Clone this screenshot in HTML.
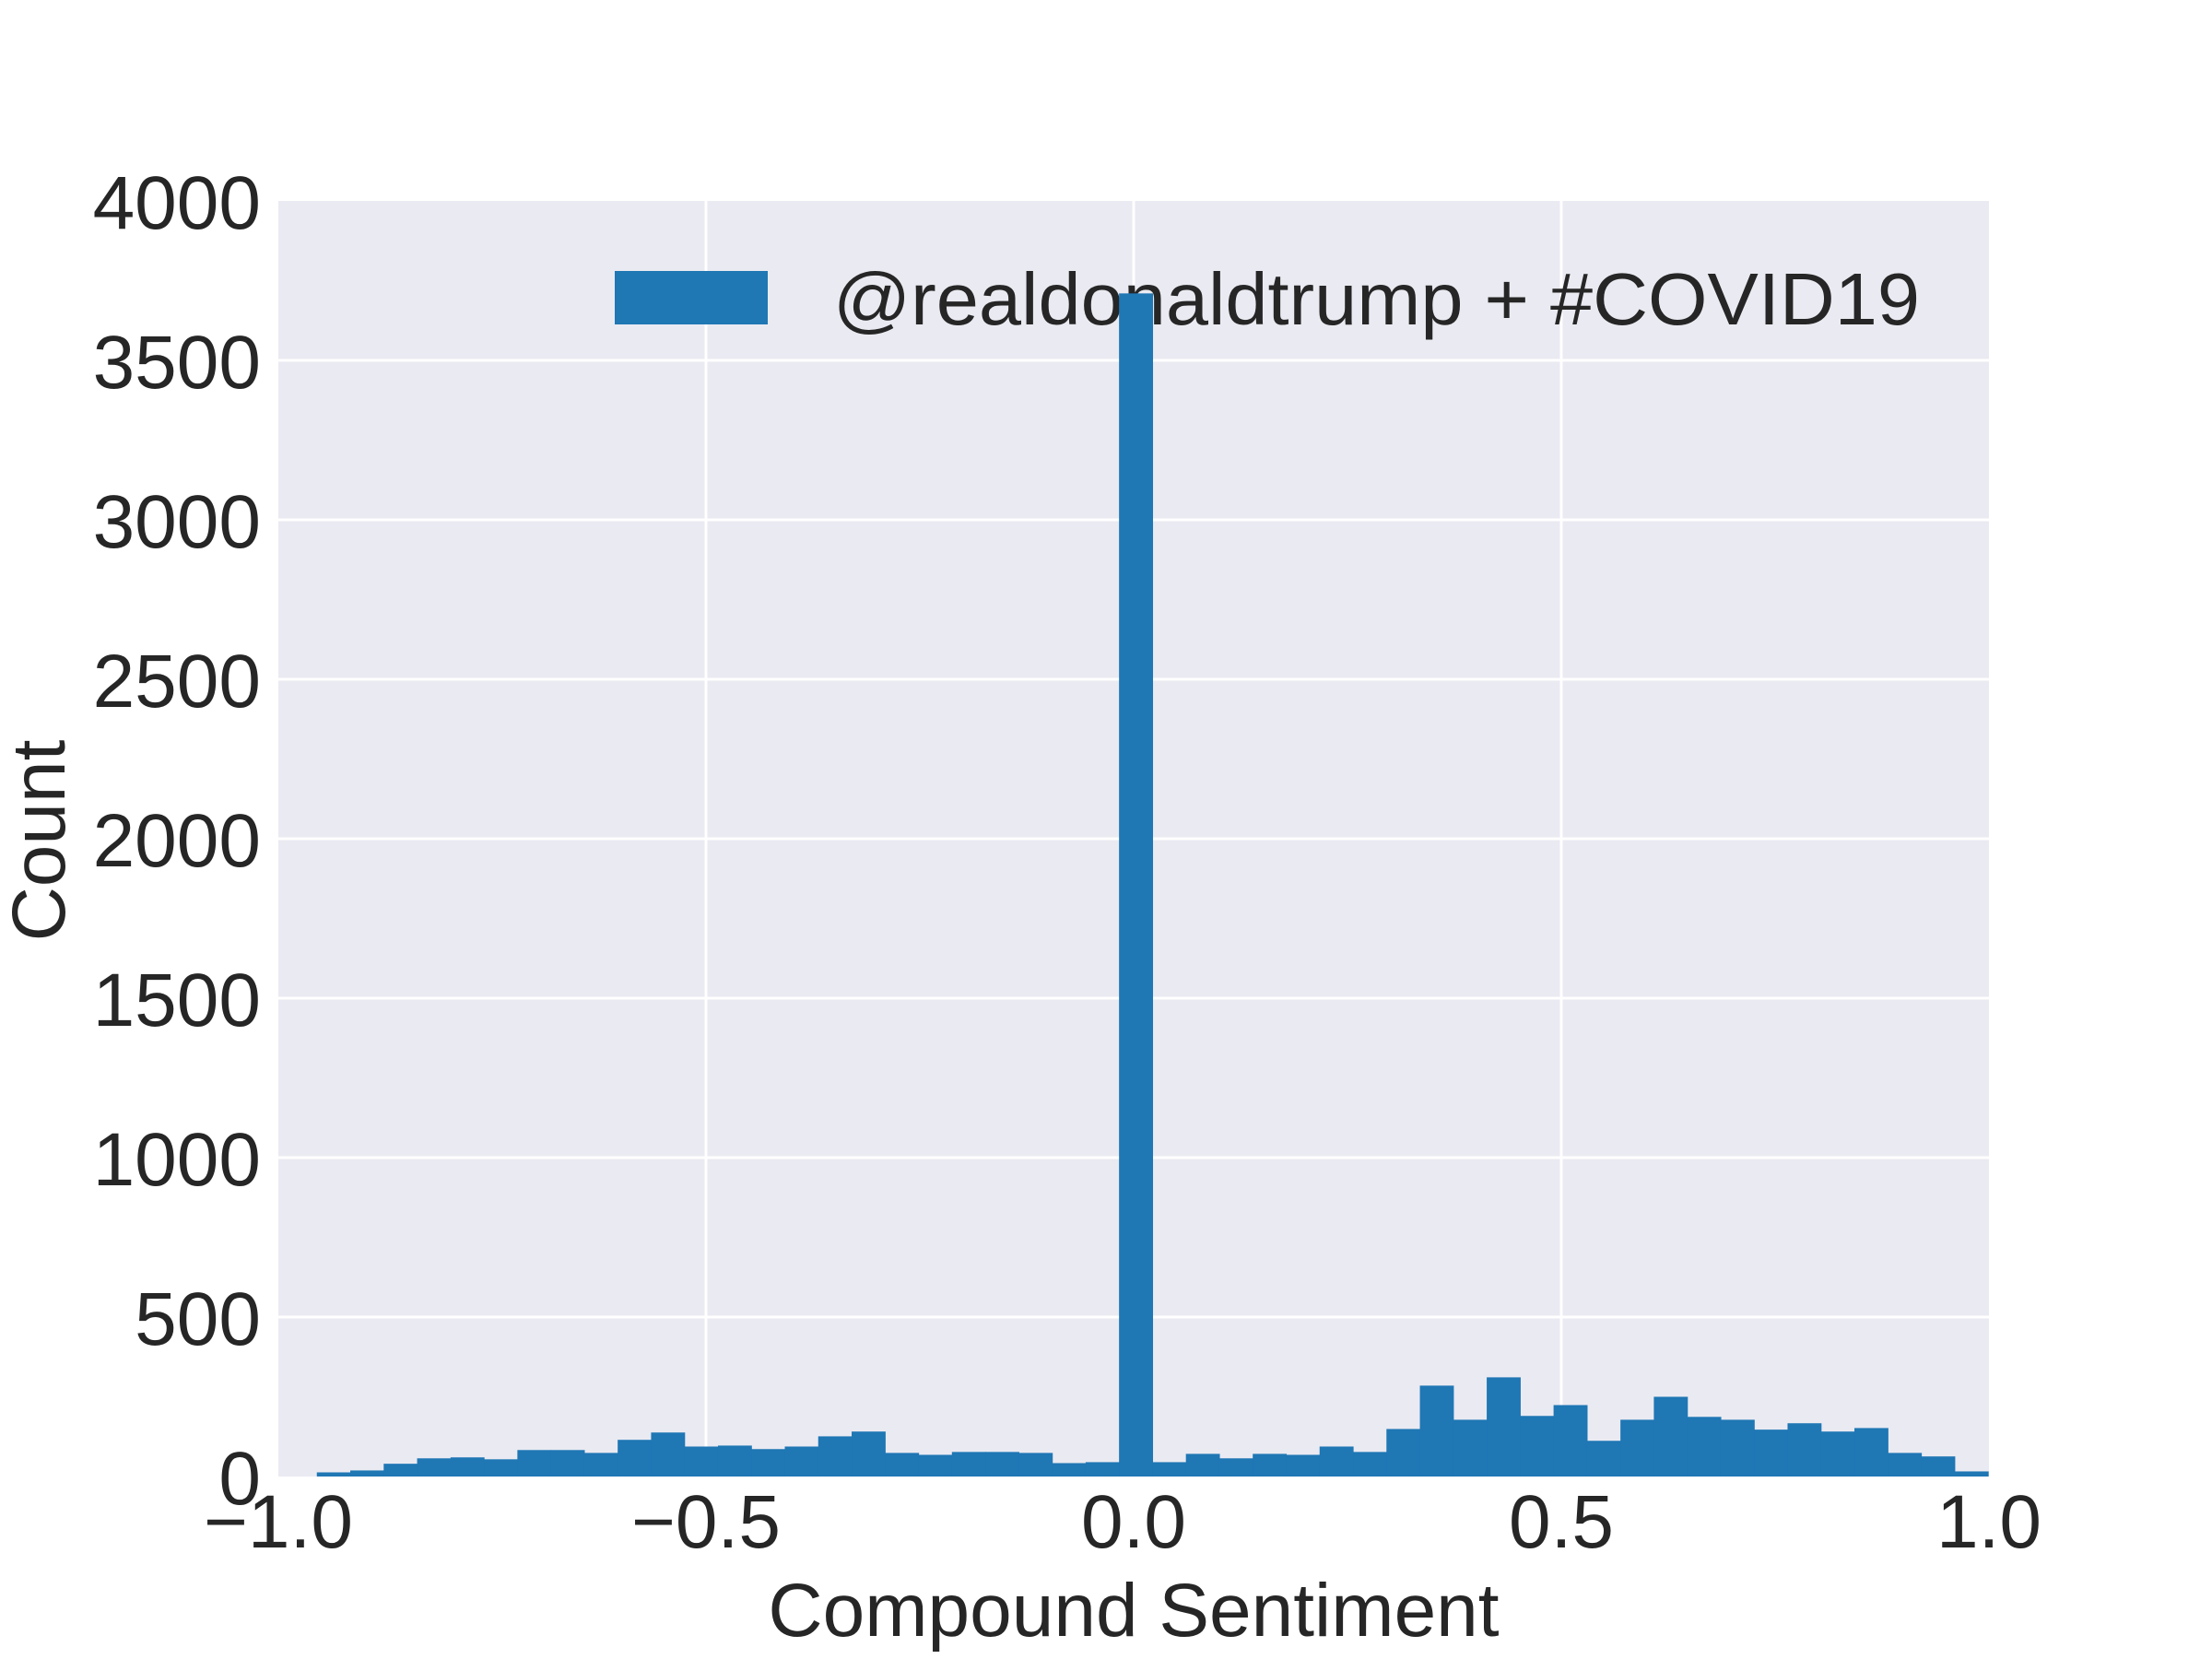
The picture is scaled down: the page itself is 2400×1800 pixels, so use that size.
<!DOCTYPE html>
<html><head><meta charset="utf-8"><style>
html,body{margin:0;padding:0;background:#fff;}
svg{display:block;font-family:"Liberation Sans",sans-serif;}
</style></head><body>
<svg id="chart" width="2400" height="1800" viewBox="0 0 2400 1800" xmlns="http://www.w3.org/2000/svg">
<rect x="302" y="218" width="1856" height="1384" fill="#eaeaf2"/>
<g id="grid"></g>
<g id="legend">
<rect x="667" y="294" width="166" height="58" fill="#1f77b4"/>
<text x="904" y="352" font-size="80" fill="#262626" textLength="1179" lengthAdjust="spacingAndGlyphs">@realdonaldtrump + #COVID19</text>
</g>
<g id="bars"></g>
<g id="ticks"></g>
<text x="1230" y="1775" font-size="82" fill="#262626" text-anchor="middle">Compound Sentiment</text>
<text x="70" y="912" font-size="82" fill="#262626" text-anchor="middle" transform="rotate(-90 70 912)">Count</text>
</svg>
<script>
const binStart = -0.955;
const binEnd = 0.999;
const counts = [13,19,40,57,60,54,83,83,74,115,138,94,97,86,94,126,141,74,68,77,77,74,42,45,3710,45,71,57,71,68,94,77,149,285,178,311,190,224,112,178,250,187,178,147,167,141,152,74,63,16];
const xTicks = [-1.0,-0.5,0.0,0.5,1.0];
const xTickLabels = ["\u22121.0","\u22120.5","0.0","0.5","1.0"];
const yTicks = [0,500,1000,1500,2000,2500,3000,3500,4000];
const yTickLabels = ["0","500","1000","1500","2000","2500","3000","3500","4000"];

const L=302,R=2158,T=218,B=1602;
const xs=v=>L+(v+1)/2*(R-L);
const ys=v=>B-v/4000*(B-T);
const NS="http://www.w3.org/2000/svg";
function mk(tag,attrs,parent){const e=document.createElementNS(NS,tag);for(const k in attrs)e.setAttribute(k,attrs[k]);parent.appendChild(e);return e;}
const grid=document.getElementById('grid'),bars=document.getElementById('bars'),ticks=document.getElementById('ticks');
xTicks.forEach((v,i)=>{
  if(i>0&&i<xTicks.length-1){const g=mk('line',{x1:xs(v),x2:xs(v),y1:T,y2:B,stroke:'#fff','stroke-width':3},grid);
  
  }
  const t=mk('text',{x:xs(v),y:1679,'font-size':82,fill:'#262626','text-anchor':'middle'},ticks);
  t.textContent=xTickLabels[i];
  
  
});
yTicks.forEach((v,i)=>{
  if(i>0&&i<yTicks.length-1){const g=mk('line',{x1:L,x2:R,y1:ys(v),y2:ys(v),stroke:'#fff','stroke-width':3},grid);
  
  }
  const t=mk('text',{x:283,y:ys(v)+30,'font-size':82,fill:'#262626','text-anchor':'end'},ticks);
  t.textContent=yTickLabels[i];
  
  
});
const w=(binEnd-binStart)/counts.length;
counts.forEach((c,i)=>{
  const x0=xs(binStart+i*w),x1=xs(binStart+(i+1)*w);
  const r=mk('rect',{x:x0,y:ys(c),width:x1-x0+0.6,height:B-ys(c),fill:'#1f77b4'},bars);
  
  
});
</script>
</body></html>
